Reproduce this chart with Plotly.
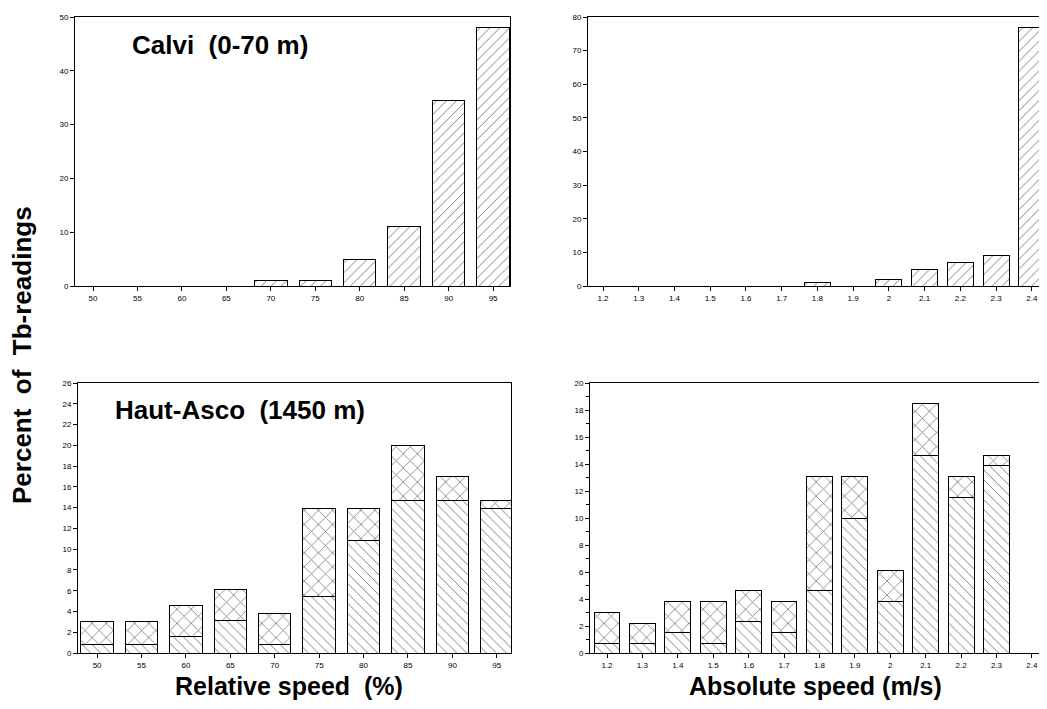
import plotly.graph_objects as go

# ---------------- data ----------------
rel_labels = ["50", "55", "60", "65", "70", "75", "80", "85", "90", "95"]
abs_labels = ["1.2", "1.3", "1.4", "1.5", "1.6", "1.7", "1.8", "1.9", "2", "2.1", "2.2", "2.3", "2.4"]

calvi_rel = [0, 0, 0, 0, 1, 1, 5, 11, 34.5, 48]
calvi_abs = [0, 0, 0, 0, 0, 0, 1, 0, 2, 5, 7, 9, 77]

asco_rel_lower = [0.8, 0.8, 1.6, 3.1, 0.8, 5.4, 10.8, 14.7, 14.7, 13.9]
asco_rel_upper = [2.2, 2.2, 3.0, 3.0, 3.0, 8.5, 3.1, 5.3, 2.3, 0.8]

asco_abs_lower = [0.7, 0.7, 1.5, 0.7, 2.3, 1.5, 4.6, 10.0, 3.8, 14.6, 11.5, 13.9, 0]
asco_abs_upper = [2.3, 1.5, 2.3, 3.1, 2.3, 2.3, 8.5, 3.1, 2.3, 3.9, 1.6, 0.7, 0]

FONT = "Liberation Sans, Arial, sans-serif"
OFF = 8  # default page body margin
W, H = 1047 - 2 * OFF, 709 - 2 * OFF


def px_x(p):
    return (p - OFF) / W


def px_y(p):
    return 1 - (p - OFF) / H


def bar(x, y, shape, size, sol, xa, ya):
    return go.Bar(
        x=x, y=y, xaxis=xa, yaxis=ya, showlegend=False,
        marker=dict(color="white",
                    line=dict(color="black", width=1),
                    pattern=dict(shape=shape, fgcolor="black", bgcolor="white",
                                 size=size, solidity=sol)),
    )


fig = go.Figure()
fig.add_trace(bar(rel_labels, calvi_rel, "/", 7, 0.14, "x", "y"))
fig.add_trace(bar(abs_labels, calvi_abs, "/", 7, 0.14, "x2", "y2"))
fig.add_trace(bar(rel_labels, asco_rel_lower, "\\", 7, 0.14, "x3", "y3"))
fig.add_trace(bar(rel_labels, asco_rel_upper, "x", 10, 0.16, "x3", "y3"))
fig.add_trace(bar(abs_labels, asco_abs_lower, "\\", 7, 0.14, "x4", "y4"))
fig.add_trace(bar(abs_labels, asco_abs_upper, "x", 10, 0.16, "x4", "y4"))


def xax(domain, rng, anchor):
    return dict(domain=domain, range=rng, anchor=anchor, type="category",
                automargin=False,
                showline=True, linecolor="black", linewidth=1, mirror=True,
                ticks="outside", ticklen=4, tickcolor="black",
                tickfont=dict(family=FONT, size=8, color="black"),
                showgrid=False, zeroline=False, fixedrange=True)


def yax(domain, rng, dtick, anchor, minor=None):
    d = dict(domain=domain, range=rng, anchor=anchor, dtick=dtick, tick0=0,
             automargin=False,
             showline=True, linecolor="black", linewidth=1, mirror=True,
             ticks="outside", ticklen=4, tickcolor="black",
             tickfont=dict(family=FONT, size=8, color="black"),
             showgrid=False, zeroline=False, fixedrange=True)
    if minor:
        d["minor"] = minor
    return d


top_y = [px_y(286), px_y(17)]
bot_y = [px_y(653), px_y(383)]

fig.update_layout(
    width=W, height=H,
    margin=dict(l=0, r=0, t=0, b=0, autoexpand=False),
    paper_bgcolor="white", plot_bgcolor="white",
    barmode="stack", bargap=0.27,
    xaxis=xax([px_x(75), px_x(510)], [-0.405, 9.38], "y"),
    yaxis=yax(top_y, [0, 50], 10, "x"),
    xaxis2=xax([px_x(588), 1.0], [-0.42, 12.2], "y2"),
    yaxis2=yax(top_y, [0, 80], 10, "x2"),
    xaxis3=xax([px_x(78), px_x(511)], [-0.43, 9.32], "y3"),
    yaxis3=yax(bot_y, [0, 26], 2, "x3"),
    xaxis4=xax([px_x(590), 1.0], [-0.48, 12.2], "y4"),
    yaxis4=yax(bot_y, [0, 20], 2, "x4",
               minor=dict(dtick=1, ticks="outside", ticklen=3, tickcolor="black")),
)

NB = "\u00a0"
ann = [
    dict(text="Calvi" + NB + NB + "(0-70 m)", x=px_x(130), y=px_y(45),
         xanchor="left", yanchor="middle", font=dict(size=26)),
    dict(text="Haut-Asco" + NB + NB + "(1450 m)", x=px_x(113), y=px_y(410),
         xanchor="left", yanchor="middle", font=dict(size=26)),
    dict(text="Relative speed" + NB + NB + "(%)", x=px_x(289), y=px_y(686),
         xanchor="center", yanchor="middle", font=dict(size=25)),
    dict(text="Absolute speed (m/s)", x=px_x(815), y=px_y(686),
         xanchor="center", yanchor="middle", font=dict(size=25)),
    dict(text="Percent" + NB + NB + "of" + NB + NB + "Tb-readings", x=px_x(22), y=px_y(355),
         xanchor="center", yanchor="middle", textangle=-90, font=dict(size=26)),
]
for a in ann:
    a.update(xref="paper", yref="paper", showarrow=False)
    a["text"] = "<b>" + a["text"] + "</b>"
    a["font"].update(family=FONT, color="black")
fig.update_layout(annotations=ann)

fig.write_html("out.html")
